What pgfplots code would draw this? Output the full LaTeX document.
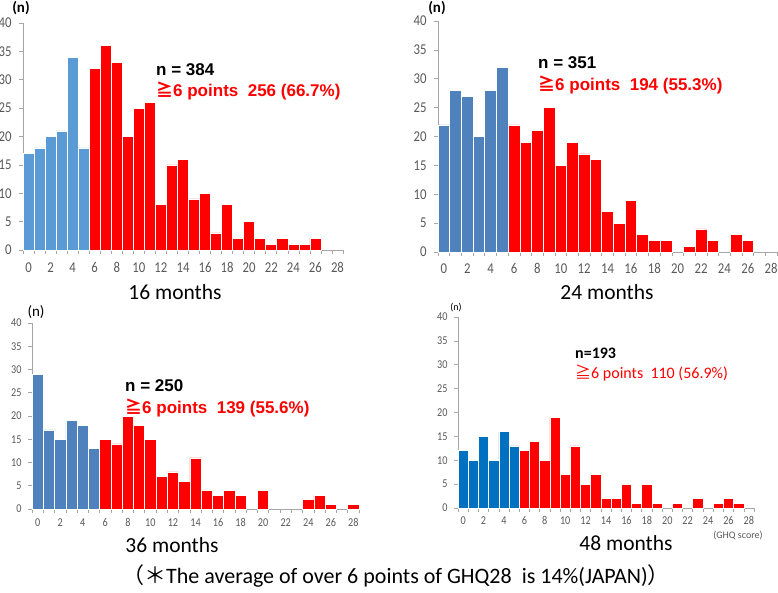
\documentclass[border=0pt]{standalone}
\usepackage{fontspec}
\usepackage{pgfplots}
\pgfplotsset{compat=1.18}
\setmainfont{Carlito}
\newfontfamily\arialf{Liberation Sans}
\newfontfamily\cjk{Noto Sans CJK JP}
\newfontfamily\tickfont[FakeStretch=0.85]{Carlito}
\definecolor{axgray}{HTML}{A6A6A6}
\definecolor{tickgray}{HTML}{595959}
\definecolor{blueA}{HTML}{5B9BD5}
\definecolor{blueB}{HTML}{4F81BD}
\definecolor{blueC}{HTML}{0070C0}
\definecolor{redA}{HTML}{FF0000}
\pgfplotsset{
  hist/.style={
    scale only axis, anchor=south west,
    xmin=-0.5, xmax=28.5, ymin=0, ymax=40,
    axis x line*=bottom, axis y line*=left,
    axis line style={draw=axgray, line width=0.8pt},
    xtick={0,2,...,28}, ytick={0,5,...,40},
    minor xtick={-0.5,0.5,...,28.5},
    tick align=outside,
    tick style={draw=axgray, line width=0.6pt},
    major x tick style={draw=none},
    major tick length=4pt, minor tick length=4pt,
    /pgf/number format/assume math mode=true,
    ticklabel style={text=tickgray},
    clip=false,
  },
  bb/.style={ybar, bar width=1, bar shift=0pt, draw=white, line width=0.6pt, fill=#1},
}
\begin{document}
\begin{tikzpicture}
\useasboundingbox (0pt,0pt) rectangle (778pt,-593pt);
% ---------- 16 months
\begin{axis}[hist, at={(23pt,-250pt)}, width=320pt, height=227pt,
  ticklabel style={font=\tickfont\fontsize{15}{15}\selectfont},
  xticklabel style={yshift=-5pt}, yticklabel style={xshift=-4pt}]
\addplot[bb=blueA] coordinates {(0,17)(1,18)(2,20)(3,21)(4,34)(5,18)};
\addplot[bb=redA] coordinates {(6,32)(7,36)(8,33)(9,20)(10,25)(11,26)(12,8)(13,15)(14,16)(15,9)(16,10)(17,3)(18,8)(19,2)(20,5)(21,2)(22,1)(23,2)(24,1)(25,1)(26,2)};
\end{axis}
% ---------- 24 months
\begin{axis}[hist, at={(438pt,-252pt)}, width=339pt, height=231pt,
  ticklabel style={font=\tickfont\fontsize{15}{15}\selectfont},
  xticklabel style={yshift=-4pt}, yticklabel style={xshift=-4pt}]
\addplot[bb=blueB] coordinates {(0,22)(1,28)(2,27)(3,20)(4,28)(5,32)};
\addplot[bb=redA] coordinates {(6,22)(7,19)(8,21)(9,25)(10,15)(11,19)(12,17)(13,16)(14,7)(15,5)(16,9)(17,3)(18,2)(19,2)(21,1)(22,4)(23,2)(25,3)(26,2)};
\end{axis}
% ---------- 36 months
\begin{axis}[hist, at={(32pt,-509pt)}, width=327pt, height=186pt,
  ticklabel style={font=\tickfont\fontsize{12}{12}\selectfont},
  xticklabel style={yshift=-2pt}, yticklabel style={xshift=-3pt}]
\addplot[bb=blueB] coordinates {(0,29)(1,17)(2,15)(3,19)(4,18)(5,13)};
\addplot[bb=redA] coordinates {(6,15)(7,14)(8,20)(9,18)(10,15)(11,7)(12,8)(13,6)(14,11)(15,4)(16,3)(17,4)(18,3)(20,4)(24,2)(25,3)(26,1)(28,1)};
\end{axis}
% ---------- 48 months
\begin{axis}[hist, at={(458pt,-508pt)}, width=296pt, height=191pt,
  ticklabel style={font=\tickfont\fontsize{12}{12}\selectfont},
  xticklabel style={yshift=-1pt}, yticklabel style={xshift=-3pt}]
\addplot[bb=blueC] coordinates {(0,12)(1,10)(2,15)(3,10)(4,16)(5,13)};
\addplot[bb=redA] coordinates {(6,12)(7,14)(8,10)(9,19)(10,7)(11,13)(12,5)(13,7)(14,2)(15,2)(16,5)(17,1)(18,5)(19,1)(21,1)(23,2)(25,1)(26,2)(27,1)};
\end{axis}
% ---------- (n) labels
\node[font=\bfseries\fontsize{15}{15}\selectfont] at (21pt,-8pt) {(n)};
\node[font=\bfseries\fontsize{15}{15}\selectfont] at (437pt,-8pt) {(n)};
\node[font=\fontsize{15}{15}\selectfont] at (36pt,-312pt) {(n)};
\node[font=\fontsize{10}{10}\selectfont] at (456pt,-308pt) {(n)};
\node[font=\fontsize{10}{10}\selectfont, text=tickgray] at (738pt,-536pt) {(GHQ score)};
% ---------- annotations
\node[anchor=west, inner sep=0, font=\arialf\bfseries\fontsize{17}{17}\selectfont] at (156pt,-70pt) {n = 384};
\node[anchor=west, inner sep=0, text=redA, font=\arialf\bfseries\fontsize{17}{17}\selectfont] at (156pt,-91pt) {{\cjk ≧}6 points\ \ 256 (66.7\%)};
\node[anchor=west, inner sep=0, font=\arialf\bfseries\fontsize{17}{17}\selectfont] at (538pt,-63pt) {n = 351};
\node[anchor=west, inner sep=0, text=redA, font=\arialf\bfseries\fontsize{17}{17}\selectfont] at (538pt,-85pt) {{\cjk ≧}6 points\ \ 194 (55.3\%)};
\node[anchor=west, inner sep=0, font=\arialf\bfseries\fontsize{17}{17}\selectfont] at (125pt,-386pt) {n = 250};
\node[anchor=west, inner sep=0, text=redA, font=\arialf\bfseries\fontsize{17}{17}\selectfont] at (125pt,-408pt) {{\cjk ≧}6 points\ \ 139 (55.6\%)};
\node[anchor=west, inner sep=0, font=\bfseries\fontsize{16}{16}\selectfont] at (575pt,-353pt) {n=193};
\node[anchor=west, inner sep=0, text=redA, font=\fontsize{16}{16}\selectfont] at (575pt,-373pt) {{\cjk ≧}6 points\ \ 110 (56.9\%)};
% ---------- titles
\node[font=\fontsize{21.5}{21.5}\selectfont] at (175pt,-292pt) {16 months};
\node[font=\fontsize{21.5}{21.5}\selectfont] at (607pt,-292pt) {24 months};
\node[font=\fontsize{21.5}{21.5}\selectfont] at (172pt,-545pt) {36 months};
\node[font=\fontsize{21.5}{21.5}\selectfont] at (626pt,-543pt) {48 months};
\node[font=\fontsize{22}{22}\selectfont] at (396pt,-576pt) {{\cjk （＊}The average of over 6 points of GHQ28\ \ is 14\%(JAPAN){\cjk ）}};
\end{tikzpicture}
\end{document}
